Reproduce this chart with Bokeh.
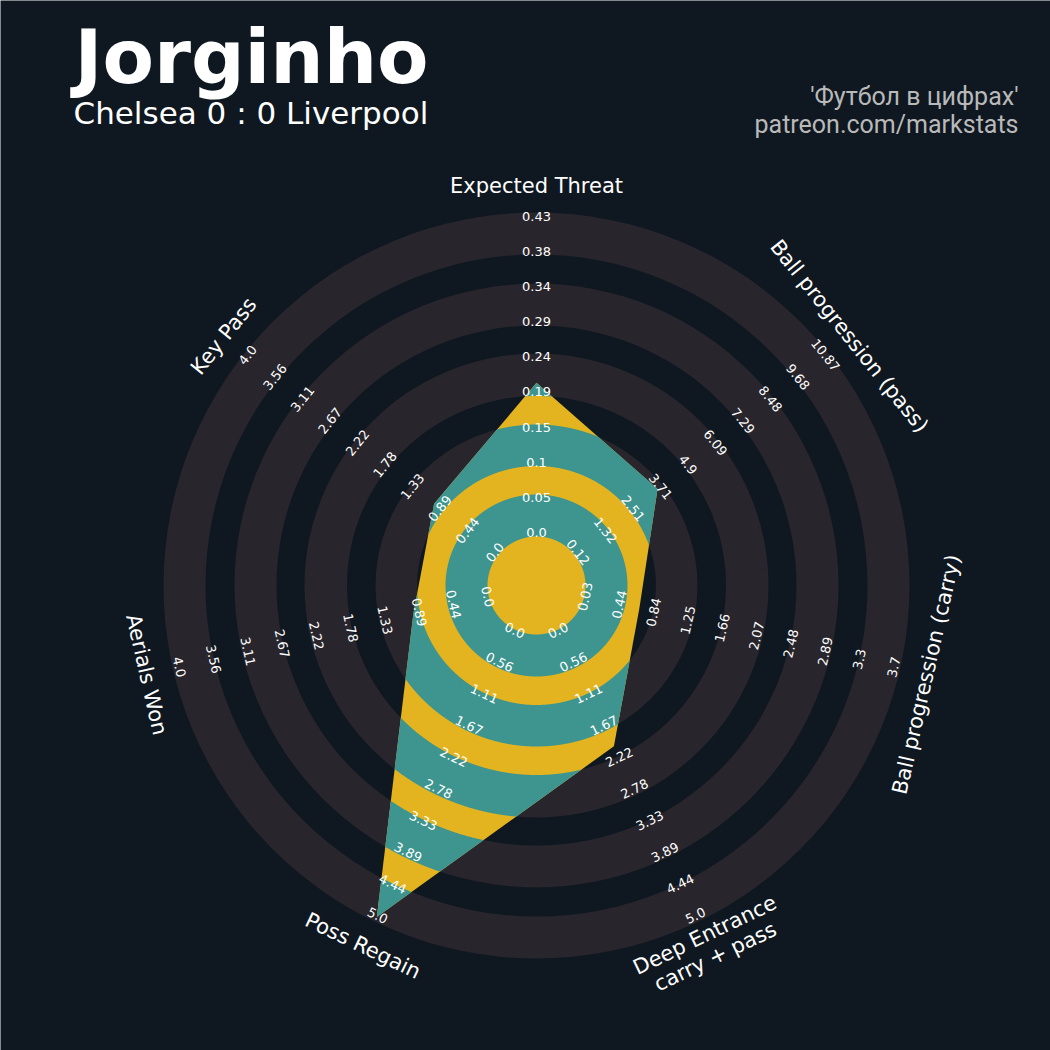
import numpy as np
from bokeh.plotting import figure
from bokeh.models import Range1d
from bokeh.embed import file_html
from bokeh.resources import INLINE
from bokeh.core.properties import value

# ---------------- data ----------------
params = ["Expected Threat", "Ball progression (pass)", "Ball progression (carry)",
          "Deep Entrance\ncarry + pass", "Poss Regain", "Aerials Won", "Key Pass"]
min_range = [0.0, 0.12, 0.03, 0.0, 0.0, 0.0, 0.0]
max_range = [0.43, 10.87, 3.7, 5.0, 5.0, 4.0, 4.0]
player_values = [0.205, 3.62, 0.65, 2.0, 5.0, 0.94, 1.0]
tick_labels = [
    ["0.0", "0.05", "0.1", "0.15", "0.19", "0.24", "0.29", "0.34", "0.38", "0.43"],
    ["0.12", "1.32", "2.51", "3.71", "4.9", "6.09", "7.29", "8.48", "9.68", "10.87"],
    ["0.03", "0.44", "0.84", "1.25", "1.66", "2.07", "2.48", "2.89", "3.3", "3.7"],
    ["0.0", "0.56", "1.11", "1.67", "2.22", "2.78", "3.33", "3.89", "4.44", "5.0"],
    ["0.0", "0.56", "1.11", "1.67", "2.22", "2.78", "3.33", "3.89", "4.44", "5.0"],
    ["0.0", "0.44", "0.89", "1.33", "1.78", "2.22", "2.67", "3.11", "3.56", "4.0"],
    ["0.0", "0.44", "0.89", "1.33", "1.78", "2.22", "2.67", "3.11", "3.56", "4.0"],
]
title = "Jorginho"
subtitle = "Chelsea 0 : 0 Liverpool"
credit_lines = ["'Футбол в цифрах'", "patreon.com/markstats"]

# ---------------- style / geometry ----------------
BG = "#0f1821"
RING = "#28252c"
TEAL = "#3e958f"
YELLOW = "#e3b41f"
W = 1050
CX, CY = 536.0, W - 585.0
R0, R1 = 52.0, 368.0          # radius of min / max value
TR0, TR1 = 53.0, 369.5        # radius of first / last tick label
LABEL_R = 400.0
ring_bands = [(49, 91), (119.5, 161), (189.5, 232), (260, 302), (331, 373)]

n = len(params)
seg = 2 * np.pi / n
angles = np.arange(n) * seg   # clockwise from top


def to_xy(r, t):
    return CX + r * np.sin(t), CY + r * np.cos(t)


def val_to_r(v, lo, hi):
    return R0 + (v - lo) / (hi - lo) * (R1 - R0)


def text_angle(t):
    a = -np.degrees(t)
    while a <= -90:
        a += 180
    while a > 90:
        a -= 180
    return np.radians(a)


def flipped(t):
    a = -np.degrees(t) % 360
    return 90 < a < 270


p = figure(width=W, height=W, x_range=Range1d(0, W), y_range=Range1d(0, W),
           output_backend="svg", toolbar_location=None, x_axis_type=None, y_axis_type=None,
           background_fill_color=BG, border_fill_color=BG, min_border=0,
           outline_line_color=None)
p.grid.visible = False

# background rings
for a, b in ring_bands:
    p.annulus(x=[CX], y=[CY], inner_radius=a, outer_radius=b,
              fill_color=RING, line_color=None)

# radar polygon
rv = np.array([val_to_r(v, lo, hi) for v, lo, hi in zip(player_values, min_range, max_range)])
px, py = to_xy(rv, angles)
p.patch(x=list(px), y=list(py), fill_color=YELLOW, line_color=None)


def rho(t):
    i = np.floor(t / seg).astype(int) % n
    j = (i + 1) % n
    d = t - i * seg
    r1, r2 = rv[i], rv[j]
    return r1 * r2 * np.sin(seg) / (r1 * np.sin(d) + r2 * np.sin(seg - d))


N = 7 * 500
theta = np.linspace(0, 2 * np.pi, N, endpoint=False)
rr = rho(theta)

mxs, mys = [], []
for a, b in ring_bands:
    rout = np.minimum(b, rr)
    mask = rr > a
    if mask.all():
        ox, oy = to_xy(rout, theta)
        hx, hy = to_xy(np.full(N, a), theta[::-1])
        mxs.append([[list(ox), list(hx)]])
        mys.append([[list(oy), list(hy)]])
        continue
    start = int(np.argmin(mask))
    idx = np.roll(np.arange(N), -start)
    runs, cur = [], []
    for i in idx:
        if mask[i]:
            cur.append(i)
        elif cur:
            runs.append(cur)
            cur = []
    if cur:
        runs.append(cur)
    for run in runs:
        run = np.array(run)
        t = theta[run]
        ox, oy = to_xy(rout[run], t)
        ix, iy = to_xy(np.full(len(run), a), t[::-1])
        mxs.append([[list(ox) + list(ix)]])
        mys.append([[list(oy) + list(iy)]])

p.multi_polygons(xs=mxs, ys=mys, fill_color=TEAL, line_color=None)

# tick labels
tx, ty, tt, ta = [], [], [], []
for k in range(n):
    labs = tick_labels[k]
    m = len(labs)
    shift = -3.0 if flipped(angles[k]) else 0.0
    for i, lab in enumerate(labs):
        r = TR0 + i * (TR1 - TR0) / (m - 1) + shift
        x, y = to_xy(r, angles[k])
        tx.append(x); ty.append(y); tt.append(lab); ta.append(text_angle(angles[k]))
p.text(x=tx, y=ty, text=tt, angle=ta, text_color="white", text_font=value("DejaVu Sans"),
       text_font_size="13px", text_align="center", text_baseline="middle")

# parameter labels
lx, ly = to_xy(np.full(n, LABEL_R), angles)
p.text(x=list(lx), y=list(ly), text=params, angle=[text_angle(t) for t in angles],
       text_color="white", text_font=value("DejaVu Sans"), text_font_size="21px",
       text_align="center", text_baseline="middle", text_line_height=1.0)

# titles
p.text(x=[74], y=[W - 56], text=[title], text_color="white",
       text_font=value("DejaVu Sans"), text_font_style="bold", text_font_size="75px",
       text_align="left", text_baseline="middle")
p.text(x=[73], y=[W - 112], text=[subtitle], text_color="white",
       text_font=value("DejaVu Sans"), text_font_size="31px",
       text_align="left", text_baseline="middle")
p.text(x=[1018, 1018], y=[W - 96, W - 124], text=credit_lines, text_color="#b9b9b9",
       text_font=value("Roboto"), text_font_size="25px",
       text_align="right", text_baseline="middle")

html = file_html(p, INLINE)
html = html.replace("<body>", '<body style="background-color:%s;">' % BG, 1)
open("out.html", "w").write(html)
